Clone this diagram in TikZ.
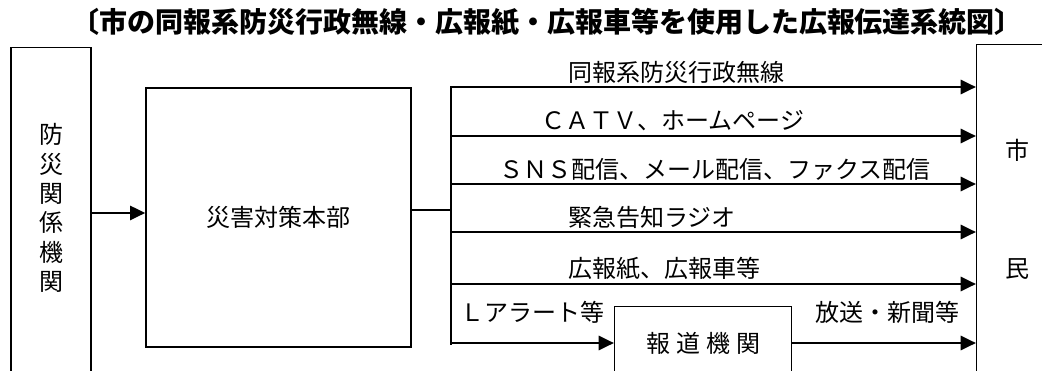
\documentclass[tikz,border=0pt]{standalone}
\usepackage{fontspec}
\setmainfont{Noto Sans CJK JP}
\usetikzlibrary{arrows.meta,positioning}

\begin{document}
\begin{tikzpicture}[x=0.75pt, y=-0.75pt,
  frame/.style={draw, line width=1pt, inner sep=0pt},
  lbl/.style={font=\fontsize{18pt}{22pt}\selectfont, inner sep=0pt},
  arr/.style={-{Triangle[length=11.5pt,width=10.5pt]}, line width=2.2pt}]
  \useasboundingbox (0,0) rectangle (1042,371);
  \clip (0,0) rectangle (1042,371);
  % title
  \node[font=\bfseries\fontsize{21pt}{24pt}\selectfont] (title) at (547,22)
    {〔市の同報系防災行政無線・広報紙・広報車等を使用した広報伝達系統図〕};
  % boxes
  \node[frame, minimum width=60pt, minimum height=300pt, anchor=north] (agency) at (51,47) {};
  \node[lbl, align=center] (agencytxt) at (51,208) {防\\災\\関\\係\\機\\関};
  \node[frame, lbl, minimum width=198.75pt, minimum height=194.25pt] (hq) at (278.5,217.5) {災害対策本部};
  \node[frame, minimum width=75pt, minimum height=300pt, anchor=north west] (citizen) at (976,44) {};
  \node[lbl] (cityA) at (1017,150) {市};
  \node[lbl] (cityB) at (1017,269) {民};
  \node[frame, lbl, minimum width=132.75pt, minimum height=55.5pt, anchor=north west] (media) at (614,306)
    {報\hspace{0.25em}道\hspace{0.25em}機\hspace{0.25em}関};
  % agency -> hq
  \coordinate (hqin) at ([yshift=3.4pt]hq.west);
  \draw[arr] (agency.east |- hqin) -- (hqin);
  % distribution bus
  \coordinate (bustop) at (451,86);
  \coordinate (busbot) at (451,345);
  \draw[line width=1.4pt] (bustop) -- (busbot);
  \coordinate (hqout) at ([yshift=5.6pt]hq.east);
  \draw[line width=0.9pt] (hqout) -- (hqout -| bustop);
  \foreach \y/\n in {87/1,136/2,184/3,232/4,284/5} {
    \coordinate (tap\n) at (451,\y);
    \draw[arr] (tap\n) -- (tap\n -| citizen.west);
  }
  \coordinate (tap6) at (451,343);
  \draw[arr] (tap6) -- (tap6 -| media.west);
  \draw[arr] (tap6 -| media.east) -- (tap6 -| citizen.west);
  % channel labels
  \node[lbl] (chan1) at (676,72) {同報系防災行政無線};
  \node[lbl] (chan2) at (673,121) {ＣＡＴＶ、ホームページ};
  \node[lbl] (chan3) at (715,169) {ＳＮＳ配信、メール配信、ファクス配信};
  \node[lbl] (chan4) at (652,217) {緊急告知ラジオ};
  \node[lbl] (chan5) at (664,269) {広報紙、広報車等};
  \node[lbl] (chan6) at (532,312) {Ｌアラート等};
  \node[lbl] (chan7) at (887,312) {放送・新聞等};
\end{tikzpicture}
\end{document}
